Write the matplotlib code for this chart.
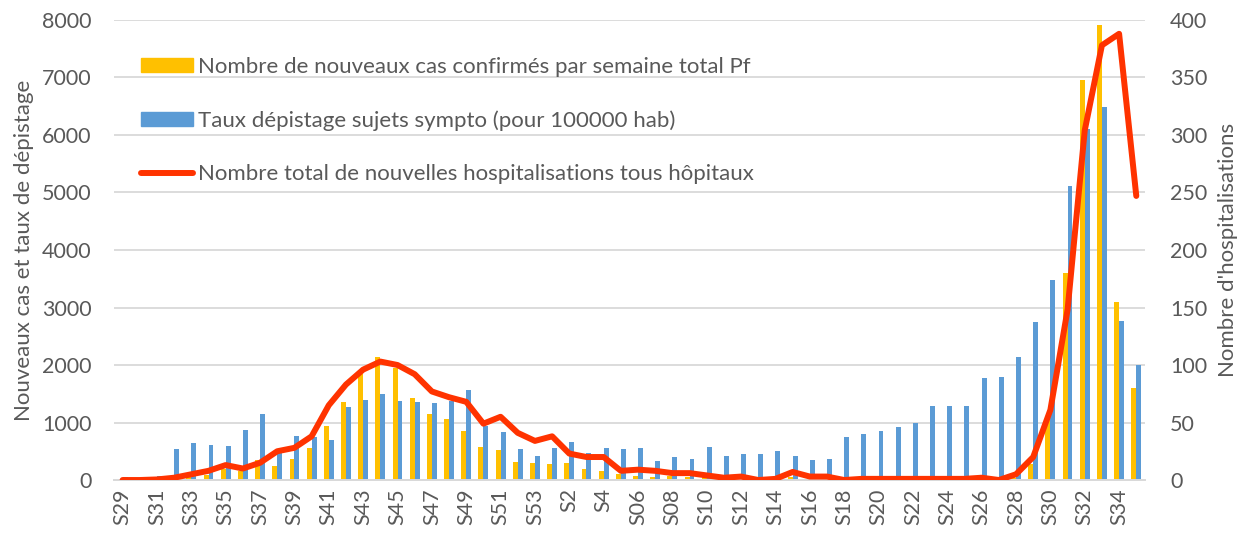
import matplotlib
matplotlib.use("Agg")
import matplotlib.pyplot as plt
from matplotlib.patches import Patch
from matplotlib.lines import Line2D
import numpy as np

# === Data ===
weeks = (["S%d" % w for w in range(29, 54)]
         + ["S1", "S2", "S3", "S4", "S5", "S06", "S07", "S08", "S09"]
         + ["S%d" % w for w in range(10, 36)])

new_cases = [20, 10, 15, 30, 60, 95, 190, 165, 340, 240,
             357, 562, 945, 1351, 1843, 2145, 1948, 1426, 1154, 1061,
             852, 580, 527, 319, 301, 284, 301, 197, 162, 99,
             70, 58, 64, 60, 46, 30, 25, 15, 20, 46,
             15, 10, 5, 5, 5, 5, 5, 5, 5, 5,
             10, 10, 40, 277, 1100, 3600, 6961, 7905, 3100, 1595]

screening_rate = [53, 10, 70, 544, 643, 612, 595, 877, 1156, 480,
                  772, 754, 696, 1275, 1385, 1490, 1380, 1356, 1339, 1380,
                  1559, 933, 829, 539, 423, 551, 655, 470, 557, 539,
                  562, 330, 400, 371, 568, 423, 458, 446, 504, 423,
                  354, 360, 748, 800, 858, 930, 986, 1283, 1289, 1283,
                  1782, 1794, 2140, 2750, 3475, 5120, 6100, 6480, 2760, 2005]

hospitalisations = [0, 0, 0.5, 2, 5, 8, 13, 10, 15, 25,
                    28, 38, 65, 83, 96, 103, 100, 92, 77, 72,
                    68, 49, 55, 41, 34, 38, 23, 20, 20, 8,
                    9, 8, 6, 6, 4, 2, 3, 0, 1, 7,
                    3, 3, 0, 1, 1, 1, 1, 1, 1, 1,
                    2, 0, 5, 20, 61, 148, 304, 378, 388, 247]

label_cases = "Nombre de nouveaux cas confirmés par semaine total Pf"
label_screen = "Taux dépistage sujets sympto (pour 100000 hab)"
label_hosp = "Nombre total de nouvelles hospitalisations tous hôpitaux"

# === Styles ===
plt.rcParams['font.family'] = ['Lato', 'DejaVu Sans']
grey_txt = "#595959"
grid_col = "#D9D9D9"
c_orange = "#FFC000"
c_blue = "#5B9BD5"
c_red = "#FF3300"
fs = 15.5

fig = plt.figure(figsize=(12.42, 5.33), dpi=100)
ax = fig.add_axes([0.0918, 0.0994, 0.830, 0.8631])
ax2 = ax.twinx()

x = np.arange(len(weeks))
w = 0.286
ax.bar(x - w / 2, new_cases, width=w, color=c_orange, zorder=2)
ax.bar(x + w / 2, screening_rate, width=w, color=c_blue, zorder=2)
ax2.plot(x, hospitalisations, color=c_red, lw=4.3, solid_joinstyle='round',
         solid_capstyle='round', zorder=3)

ax.set_xlim(-0.5, len(weeks) - 0.5)
ax.set_ylim(0, 8000)
ax2.set_ylim(0, 400)
ax.set_yticks(np.arange(0, 8001, 1000))
ax2.set_yticks(np.arange(0, 401, 50))
ax.set_xticks(x[::2])
ax.set_xticklabels(weeks[::2], rotation=90)

ax.yaxis.grid(True, color=grid_col, lw=1.3, zorder=0)
ax.set_axisbelow(True)
for a in (ax, ax2):
    for s in ("top", "left", "right"):
        a.spines[s].set_visible(False)
    a.spines["bottom"].set_color(grid_col)
    a.spines["bottom"].set_linewidth(1.3)
    a.tick_params(length=0, colors=grey_txt, labelsize=fs)
ax.tick_params(axis='y', pad=16)
ax2.tick_params(axis='y', pad=18)
ax.tick_params(axis='x', pad=6)

ax.set_ylabel("Nouveaux cas et taux de dépistage", color=grey_txt, fontsize=16, labelpad=6)
ax2.set_ylabel("Nombre d'hospitalisations", color=grey_txt, fontsize=16, labelpad=8)

# legend sits inside the plot, top-left
handles = [Patch(color=c_orange), Patch(color=c_blue),
           Line2D([0], [0], color=c_red, lw=4.3, solid_capstyle='round')]
ax2.legend(handles, [label_cases, label_screen, label_hosp],
           loc='upper left', bbox_to_anchor=(0.026, 0.92), frameon=False,
           fontsize=16, labelcolor=grey_txt, handlelength=2.35, handleheight=0.63,
           handletextpad=0.22, labelspacing=1.5, borderpad=0, borderaxespad=0)

fig.savefig("out.png", dpi=100)
